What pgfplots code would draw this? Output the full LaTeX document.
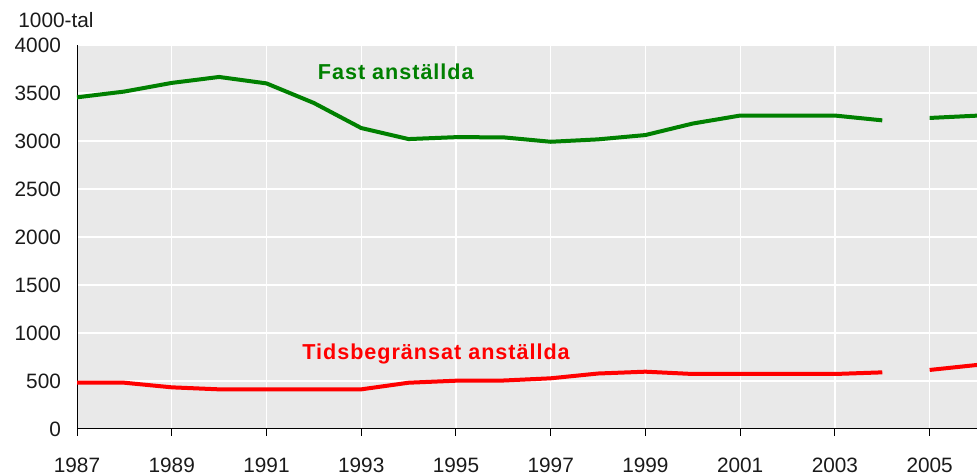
\documentclass[border=0pt]{standalone}
\usepackage{pgfplots}
\pgfplotsset{compat=1.18}
\usetikzlibrary{calc}
\usepackage{fontspec}
\setmainfont{Liberation Sans}
\newfontfamily\labfont[LetterSpace=4.5]{Liberation Sans}
\definecolor{bg}{HTML}{E9E9E9}
\definecolor{grn}{HTML}{008000}
\definecolor{rd}{HTML}{FF0000}
\definecolor{txt}{HTML}{1A1A1A}
\begin{document}
\begin{tikzpicture}
\begin{axis}[
  at={(0,0)}, anchor=south west,
  scale only axis, width=450pt, height=192pt,
  xmin=1987, xmax=2006, ymin=0, ymax=4000,
  axis x line*=bottom, axis y line*=left,
  axis line style={black, line width=0.5pt},
  axis background/.style={fill=bg},
  xtick={1987,1989,...,2005},
  ytick={0,500,...,4000},
  grid=major,
  major grid style={white, line width=0.6pt},
  xtick style={black, line width=0.5pt},
  ytick style={draw=none},
  major tick length=3.5pt,
  tick align=outside,
  /pgf/number format/assume math mode=true,
  /pgf/number format/1000 sep={},
  tick label style={font=\fontsize{10.4}{12}\selectfont, text=txt},
  xticklabel style={yshift=-7.5pt},
  yticklabel style={xshift=-1pt},
  unbounded coords=jump,
  clip=false,
]
\addplot[grn, line width=2pt] coordinates {
(1987,3455) (1988,3515) (1989,3605) (1990,3667) (1991,3600) (1992,3396)
(1993,3135) (1994,3020) (1995,3040) (1996,3038) (1997,2992) (1998,3017)
(1999,3062) (2000,3182) (2001,3265) (2002,3265) (2003,3265) (2004,3215)
(2004.5,nan) (2005,3240) (2006,3264)};
\addplot[rd, line width=2pt] coordinates {
(1987,482) (1988,482) (1989,434) (1990,413) (1991,413) (1992,413)
(1993,413) (1994,482) (1995,503) (1996,505) (1997,528) (1998,578)
(1999,597) (2000,573) (2001,573) (2002,573) (2003,573) (2004,590)
(2004.5,nan) (2005,615) (2006,667)};
\node[grn, font=\labfont\bfseries\fontsize{10.8}{12}\selectfont] at (axis cs:1993.73,3719) {Fast anställda};
\node[rd, font=\labfont\bfseries\fontsize{10.8}{12}\selectfont] at (axis cs:1994.58,781) {Tidsbegränsat anställda};
\node[anchor=west, text=txt, inner sep=0pt] at ($(rel axis cs:0,1)+(-29.5pt,12.5pt)$) {\fontsize{10.4}{12}\selectfont 1000-tal};
\end{axis}
\pgfresetboundingbox
\path (-38.5pt,-23pt) rectangle (450pt,214.5pt);
\end{tikzpicture}
\end{document}
